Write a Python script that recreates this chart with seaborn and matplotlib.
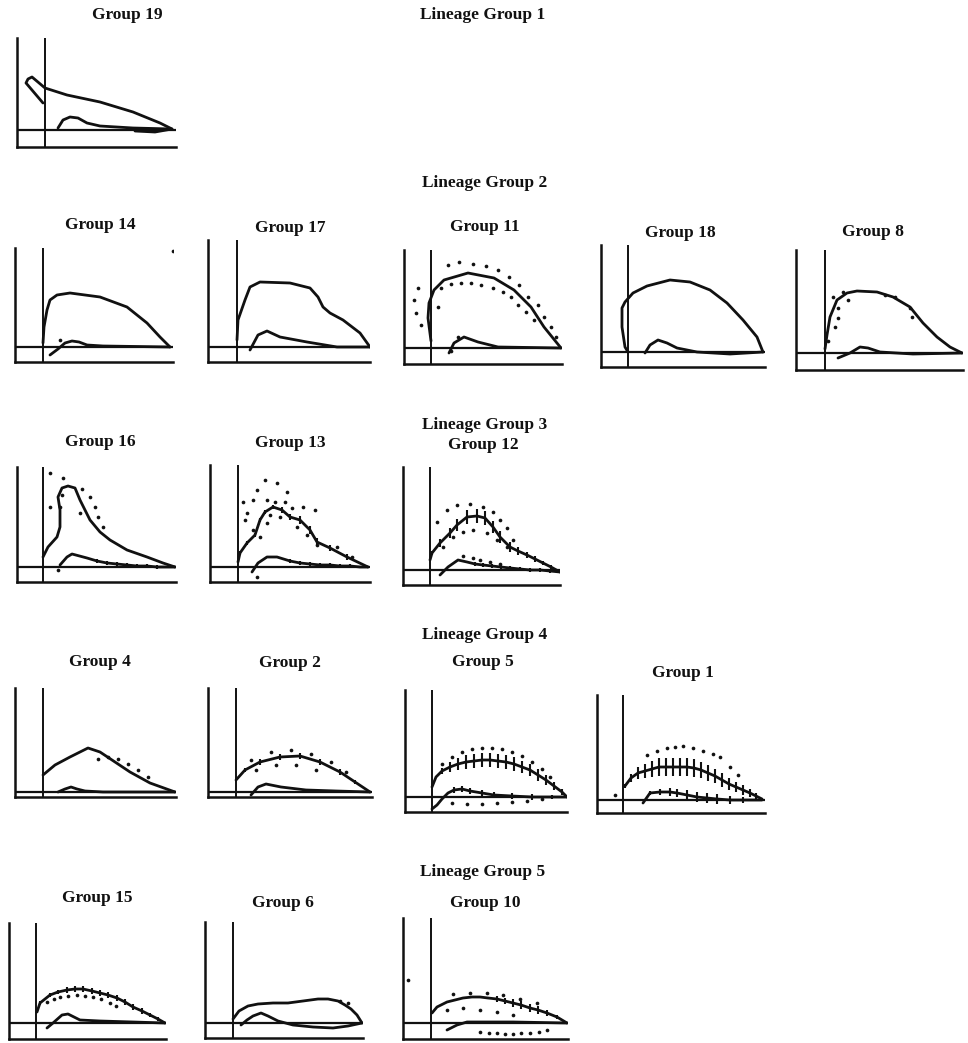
import numpy as np
import pandas as pd
import seaborn as sns
import matplotlib.pyplot as plt

sns.set_theme(style="white")
plt.rcParams['font.family'] = ['Liberation Serif', 'DejaVu Serif']

W, H = 968, 1043

# ---------------------------------------------------------------
# Trajectories per group: x = time offset after onset, y = response
# MAIN = fitted curve, HUMP = secondary curve, DOTS = replicate points,
# ERR = half-length of replicate spread along the curve
# ---------------------------------------------------------------
G19_X = [-2, -19, -17, -13, 0, 22, 55, 88, 115, 127, 110, 90]
G19_Y = [27, 47, 51, 53, 42, 35, 28, 18, 7, 1, -2, -1]
G19_HX = [13, 18, 25, 33, 42, 55, 88, 127]
G19_HY = [2, 10, 13, 12, 7, 4, 2, 1]

G14_X = [0, 1, 4, 7, 14, 27, 57, 84, 104, 117, 127]
G14_Y = [4, 20, 37, 47, 52, 54, 50, 40, 24, 10, 0]
G14_HX = [7, 15, 22, 29, 36, 44, 60, 127]
G14_HY = [-8, -2, 4, 6, 5, 2, 1, 0]
G14_DX = [130, 17]
G14_DY = [96, 7]

G17_X = [0, 1, 8, 13, 23, 53, 73, 81, 86, 93, 106, 123, 133]
G17_Y = [7, 27, 47, 60, 65, 64, 59, 50, 40, 34, 27, 14, 0]
G17_HX = [13, 21, 30, 43, 70, 100, 133]
G17_HY = [-3, 12, 16, 10, 5, 0, 0]

G11_X = [0, -3, -2, 3, 13, 37, 63, 83, 100, 113, 130]
G11_Y = [7, 30, 45, 58, 68, 75, 70, 58, 41, 21, 0]
G11_HX = [18, 23, 33, 47, 67, 130]
G11_HY = [-5, 5, 11, 6, 1, 0]
G11_DX = [17, 28, 42, 55, 67, 78, 88, 97, 107, 113, 120, 125,
          7, 10, 20, 30, 40, 50, 62, 72, 80, 87, 95, 103,
          -13, -17, -15, -10, 27, 20]
G11_DY = [83, 86, 84, 82, 78, 71, 63, 51, 43, 31, 21, 11,
          41, 60, 64, 65, 65, 63, 60, 56, 51, 43, 36, 28,
          60, 48, 35, 23, 11, -3]

G18_X = [0, -3, -6, -6, -3, 5, 19, 42, 62, 82, 99, 115, 129, 135]
G18_Y = [0, 5, 25, 44, 50, 59, 66, 72, 70, 62, 49, 32, 15, 0]
G18_HX = [17, 22, 30, 39, 49, 69, 102, 135]
G18_HY = [-1, 7, 12, 9, 4, 0, -2, 0]

G8_X = [0, 2, 5, 12, 22, 32, 52, 68, 85, 98, 112, 125, 137]
G8_Y = [4, 18, 36, 53, 60, 62, 61, 56, 46, 30, 16, 6, 0]
G8_HX = [13, 25, 35, 43, 55, 88, 137]
G8_HY = [-5, 0, 6, 5, 1, -1, 0]
G8_DX = [8, 18, 13, 13, 10, 23, 60, 70, 85, 87, 3]
G8_DY = [56, 61, 45, 35, 26, 53, 58, 56, 45, 36, 12]

G16_X = [0, 5, 14, 17, 17, 15, 19, 25, 32, 37, 42, 47, 57, 67, 84, 104, 120, 132]
G16_Y = [10, 20, 30, 40, 57, 70, 79, 81, 79, 67, 57, 47, 35, 27, 17, 10, 4, 0]
G16_HX = [17, 24, 29, 44, 54, 64, 74, 84, 94, 104, 114, 124, 132]
G16_HY = [2, 10, 13, 9, 6, 4, 3, 2, 1, 1, 0, 0, 0]
G16_HERR = [0, 0, 0, 0, 2, 2, 2, 2, 2, 2, 2, 1, 0]
G16_DX = [7, 20, 7, 19, 39, 47, 52, 55, 60, 37, 15, 17]
G16_DY = [94, 89, 60, 72, 78, 70, 60, 50, 40, 54, -3, 60]

G13_X = [0, 2, 9, 17, 22, 27, 35, 44, 52, 62, 72, 79, 92, 109, 130]
G13_Y = [5, 14, 24, 32, 47, 55, 60, 57, 50, 47, 37, 25, 19, 10, 0]
G13_ERR = [0, 2, 2, 2, 2, 2, 2, 3, 3, 4, 4, 4, 3, 3, 0]
G13_HX = [14, 20, 29, 39, 52, 62, 72, 82, 92, 102, 112, 122, 130]
G13_HY = [-5, 4, 10, 10, 6, 4, 3, 2, 2, 1, 1, 0, 0]
G13_HERR = [0, 0, 0, 0, 2, 2, 2, 2, 2, 2, 2, 1, 0]
G13_DX = [27, 39, 49, 19, 5, 15, 29, 37, 47, 54, 65, 77, 9, 7, 15, 29, 32,
          42, 59, 69, 79, 99, 114, 22, 19]
G13_DY = [87, 84, 75, 77, 65, 67, 67, 65, 65, 59, 60, 57, 54, 47, 37, 44, 52,
          50, 40, 32, 22, 20, 10, 30, -10]

G12_X = [0, 2, 10, 20, 27, 37, 47, 55, 63, 70, 80, 88, 97, 105, 113, 121, 130]
G12_Y = [10, 17, 27, 37, 45, 53, 54, 52, 43, 33, 23, 19, 15, 11, 7, 3, -2]
G12_ERR = [0, 2, 4, 5, 6, 7, 7, 7, 6, 6, 5, 4, 3, 3, 2, 2, 0]
G12_HX = [10, 18, 28, 37, 45, 53, 62, 71, 80, 90, 100, 110, 120, 130]
G12_HY = [-5, 3, 10, 8, 6, 5, 4, 3, 2, 1, 0, 0, -1, -2]
G12_HERR = [0, 0, 0, 0, 2, 2, 2, 2, 2, 2, 2, 2, 2, 0]
G12_DX = [7, 17, 27, 40, 53, 63, 70, 77, 83, 13, 23, 33, 43, 57, 67, 77,
          33, 43, 50, 60, 70]
G12_DY = [48, 60, 65, 66, 63, 58, 50, 42, 30, 23, 33, 38, 40, 37, 30, 23,
          14, 12, 10, 8, 6]

G4_X = [0, 12, 27, 45, 57, 72, 87, 107, 132]
G4_Y = [17, 27, 35, 44, 40, 30, 20, 9, 0]
G4_HX = [15, 22, 28, 34, 42, 60, 132]
G4_HY = [0, 3, 5, 3, 1, 0, 0]
G4_DX = [55, 65, 75, 85, 95, 105]
G4_DY = [33, 35, 33, 28, 22, 15]

G2_X = [0, 9, 24, 44, 64, 84, 104, 119, 134]
G2_Y = [12, 22, 30, 35, 36, 30, 20, 10, 0]
G2_ERR = [0, 2, 3, 3, 3, 3, 3, 2, 0]
G2_HX = [15, 22, 30, 45, 70, 100, 134]
G2_HY = [-3, 5, 8, 5, 2, 1, 0]
G2_DX = [15, 35, 55, 75, 95, 110, 20, 40, 60, 80]
G2_DY = [32, 40, 42, 38, 30, 20, 22, 27, 27, 22]

G5_X = [0, 4, 10, 18, 26, 34, 42, 50, 58, 66, 74, 82, 90, 98, 106, 114, 122, 130, 135]
G5_Y = [10, 20, 26, 30, 33, 35, 36, 37, 37, 36, 35, 33, 30, 27, 22, 17, 11, 5, 0]
G5_ERR = [0, 0, 3, 5, 6, 7, 7, 7, 7, 7, 7, 7, 6, 6, 6, 5, 4, 3, 0]
G5_HX = [0, 5, 10, 16, 22, 30, 38, 50, 62, 80, 100, 120, 135]
G5_HY = [-12, -8, -2, 4, 7, 8, 6, 4, 2, 1, 0, 0, 0]
G5_HERR = [0, 0, 0, 0, 3, 3, 3, 3, 3, 3, 3, 2, 0]
G5_DX = [10, 20, 30, 40, 50, 60, 70, 80, 90, 100, 110, 118,
         20, 35, 50, 65, 80, 95, 110]
G5_DY = [33, 40, 45, 48, 49, 49, 48, 45, 41, 35, 28, 20,
         -6, -7, -7, -6, -5, -4, -2]

G1_X = [2, 8, 15, 22, 29, 36, 43, 50, 57, 64, 71, 78, 85, 92, 99, 106, 113, 120, 127, 133, 139]
G1_Y = [14, 22, 27, 29, 31, 33, 33, 33, 33, 33, 32, 30, 27, 24, 20, 16, 13, 10, 7, 4, 1]
G1_ERR = [2, 4, 6, 7, 8, 9, 9, 9, 9, 9, 9, 8, 8, 7, 7, 6, 5, 5, 4, 3, 1]
G1_HX = [20, 27, 37, 47, 54, 64, 74, 84, 94, 107, 120, 139]
G1_HY = [-3, 7, 8, 8, 7, 5, 3, 2, 1, 0, 0, 0]
G1_HERR = [0, 2, 3, 4, 4, 5, 5, 5, 5, 4, 3, 1]
G1_DX = [24, 34, 44, 52, 60, 70, 80, 90, 97, 107, 115, -8]
G1_DY = [45, 49, 52, 53, 54, 52, 49, 46, 43, 33, 25, 5]

G15_X = [1, 4, 14, 22, 31, 39, 47, 56, 64, 72, 81, 89, 97, 106, 114, 122, 129]
G15_Y = [11, 20, 28, 31, 33, 34, 34, 32, 30, 28, 25, 21, 16, 12, 8, 4, 0]
G15_ERR = [0, 2, 2, 2, 3, 3, 3, 3, 3, 3, 3, 3, 3, 3, 2, 2, 0]
G15_HX = [11, 17, 26, 32, 38, 44, 64, 97, 129]
G15_HY = [-5, 0, 8, 9, 6, 3, 2, 1, 0]
G15_DX = [11, 18, 24, 32, 41, 49, 57, 65, 74, 80]
G15_DY = [21, 24, 26, 27, 28, 27, 26, 24, 20, 17]

G6_X = [0, 6, 15, 25, 40, 55, 70, 85, 95, 105, 112, 118, 124, 129]
G6_Y = [4, 12, 17, 19, 20, 20, 22, 24, 24, 22, 18, 14, 8, 0]
G6_HX = [8, 14, 20, 28, 35, 45, 60, 80, 100, 115, 129]
G6_HY = [-2, 3, 7, 10, 7, 2, -2, -4, -5, -3, 0]
G6_DX = [107, 115]
G6_DY = [22, 20]

G10_X = [1, 6, 16, 24, 32, 41, 49, 57, 66, 74, 82, 90, 99, 107, 116, 126, 136]
G10_Y = [10, 16, 21, 23, 25, 26, 26, 25, 24, 22, 20, 18, 15, 13, 10, 6, 0]
G10_ERR = [0, 0, 0, 0, 0, 0, 0, 0, 3, 3, 4, 4, 4, 4, 3, 2, 0]
G10_HX = [16, 26, 36, 49, 82, 136]
G10_HY = [-7, -2, 1, 1, 1, 0]
G10_DX = [22, 39, 56, 72, 89, 106, 16, 32, 49, 66, 82, -23,
          49, 58, 66, 74, 82, 90, 99, 108, 116]
G10_DY = [29, 30, 30, 28, 24, 20, 13, 15, 13, 11, 8, 43,
          -9, -10, -10, -11, -11, -10, -10, -9, -7]

# Titles
LINEAGE_TITLES = ["Lineage Group 1", "Lineage Group 2", "Lineage Group 3",
                  "Lineage Group 4", "Lineage Group 5"]

SERIES = {
    "Group 19": dict(x=G19_X, y=G19_Y, hx=G19_HX, hy=G19_HY),
    "Group 14": dict(x=G14_X, y=G14_Y, hx=G14_HX, hy=G14_HY, dx=G14_DX, dy=G14_DY),
    "Group 17": dict(x=G17_X, y=G17_Y, hx=G17_HX, hy=G17_HY),
    "Group 11": dict(x=G11_X, y=G11_Y, hx=G11_HX, hy=G11_HY, dx=G11_DX, dy=G11_DY),
    "Group 18": dict(x=G18_X, y=G18_Y, hx=G18_HX, hy=G18_HY),
    "Group 8": dict(x=G8_X, y=G8_Y, hx=G8_HX, hy=G8_HY, dx=G8_DX, dy=G8_DY),
    "Group 16": dict(x=G16_X, y=G16_Y, hx=G16_HX, hy=G16_HY, herr=G16_HERR,
                     dx=G16_DX, dy=G16_DY),
    "Group 13": dict(x=G13_X, y=G13_Y, err=G13_ERR, hx=G13_HX, hy=G13_HY,
                     herr=G13_HERR, dx=G13_DX, dy=G13_DY),
    "Group 12": dict(x=G12_X, y=G12_Y, err=G12_ERR, hx=G12_HX, hy=G12_HY,
                     herr=G12_HERR, dx=G12_DX, dy=G12_DY),
    "Group 4": dict(x=G4_X, y=G4_Y, hx=G4_HX, hy=G4_HY, dx=G4_DX, dy=G4_DY),
    "Group 2": dict(x=G2_X, y=G2_Y, err=G2_ERR, hx=G2_HX, hy=G2_HY,
                    dx=G2_DX, dy=G2_DY),
    "Group 5": dict(x=G5_X, y=G5_Y, err=G5_ERR, hx=G5_HX, hy=G5_HY,
                    herr=G5_HERR, dx=G5_DX, dy=G5_DY),
    "Group 1": dict(x=G1_X, y=G1_Y, err=G1_ERR, hx=G1_HX, hy=G1_HY,
                    herr=G1_HERR, dx=G1_DX, dy=G1_DY),
    "Group 15": dict(x=G15_X, y=G15_Y, err=G15_ERR, hx=G15_HX, hy=G15_HY,
                     dx=G15_DX, dy=G15_DY),
    "Group 6": dict(x=G6_X, y=G6_Y, hx=G6_HX, hy=G6_HY, dx=G6_DX, dy=G6_DY),
    "Group 10": dict(x=G10_X, y=G10_Y, err=G10_ERR, hx=G10_HX, hy=G10_HY,
                     dx=G10_DX, dy=G10_DY),
}

# Panel frames in pixels: spine x, onset x, baseline y, floor y, top y, right x
LAYOUT = {
    "Group 19": (17, 45, 130, 147, 38, 176),
    "Group 14": (15, 43, 347, 362, 248, 173),
    "Group 17": (208, 237, 347, 362, 240, 370),
    "Group 11": (404, 431, 348, 364, 250, 562),
    "Group 18": (601, 628, 352, 367, 245, 765),
    "Group 8": (796, 825, 353, 370, 250, 963),
    "Group 16": (17, 43, 567, 582, 467, 176),
    "Group 13": (210, 238, 567, 582, 465, 370),
    "Group 12": (403, 430, 570, 585, 467, 560),
    "Group 4": (15, 43, 792, 797, 688, 176),
    "Group 2": (208, 236, 792, 797, 688, 372),
    "Group 5": (405, 432, 797, 812, 690, 567),
    "Group 1": (597, 623, 800, 813, 695, 765),
    "Group 15": (9, 36, 1023, 1039, 923, 166),
    "Group 6": (205, 233, 1023, 1038, 922, 363),
    "Group 10": (403, 431, 1023, 1039, 918, 568),
}
TITLE_POS = {
    "Group 19": (127, 15), "Group 14": (100, 225), "Group 17": (290, 228),
    "Group 11": (485, 227), "Group 18": (680, 233), "Group 8": (873, 232),
    "Group 16": (100, 442), "Group 13": (290, 443), "Group 12": (483, 445),
    "Group 4": (100, 662), "Group 2": (290, 663), "Group 5": (483, 662),
    "Group 1": (683, 673), "Group 15": (97, 898), "Group 6": (283, 903),
    "Group 10": (485, 903),
}
LINEAGE_POS = [(483, 15), (485, 183), (485, 425), (485, 635), (483, 872)]

fig = plt.figure(figsize=(W / 100, H / 100), dpi=100)
fig.patch.set_facecolor("white")

INK = "#111111"


def draw_panel(name):
    sx, ox, zy, by, ty, rx = LAYOUT[name]
    s = SERIES[name]
    ax = fig.add_axes([sx / W, 1 - by / H, (rx - sx) / W, (by - ty) / H])
    ax.set_xlim(sx - ox, rx - ox)
    ax.set_ylim(-(by - zy), zy - ty)
    ax.set_facecolor("none")
    for side in ("top", "right"):
        ax.spines[side].set_visible(False)
    for side in ("left", "bottom"):
        ax.spines[side].set_color(INK)
        ax.spines[side].set_linewidth(1.8)
    ax.set_xticks([])
    ax.set_yticks([])
    ax.axvline(0, color=INK, lw=1.4, zorder=1)
    ax.axhline(0, color=INK, lw=1.6, zorder=1)

    main = pd.DataFrame({"x": s["x"], "y": s["y"]})
    hump = pd.DataFrame({"x": s["hx"], "y": s["hy"]})
    sns.lineplot(data=main, x="x", y="y", sort=False, estimator=None,
                 color=INK, lw=2.0, ax=ax)
    sns.lineplot(data=hump, x="x", y="y", sort=False, estimator=None,
                 color=INK, lw=2.0, ax=ax)
    if "err" in s:
        e = np.asarray(s["err"], float)
        yv = np.asarray(s["y"], float)
        ax.vlines(s["x"], yv - e, yv + e, color=INK, lw=1.5)
    if "herr" in s:
        e = np.asarray(s["herr"], float)
        yv = np.asarray(s["hy"], float)
        ax.vlines(s["hx"], yv - e, yv + e, color=INK, lw=1.5)
    if "dx" in s:
        pts = pd.DataFrame({"x": s["dx"], "y": s["dy"]})
        sns.scatterplot(data=pts, x="x", y="y", color=INK, s=7,
                        linewidth=0, ax=ax)
    ax.set_xlabel("")
    ax.set_ylabel("")
    fx, fy = TITLE_POS[name]
    fig.text(fx / W, 1 - fy / H, name, ha="center", va="center",
             fontsize=12.5, fontweight="bold", color=INK)


for name in SERIES:
    draw_panel(name)

for label, (lx, ly) in zip(LINEAGE_TITLES, LINEAGE_POS):
    fig.text(lx / W, 1 - ly / H, label, ha="center", va="center",
             fontsize=12.5, fontweight="bold", color=INK)

fig.savefig("out.png", dpi=100, facecolor="white")
